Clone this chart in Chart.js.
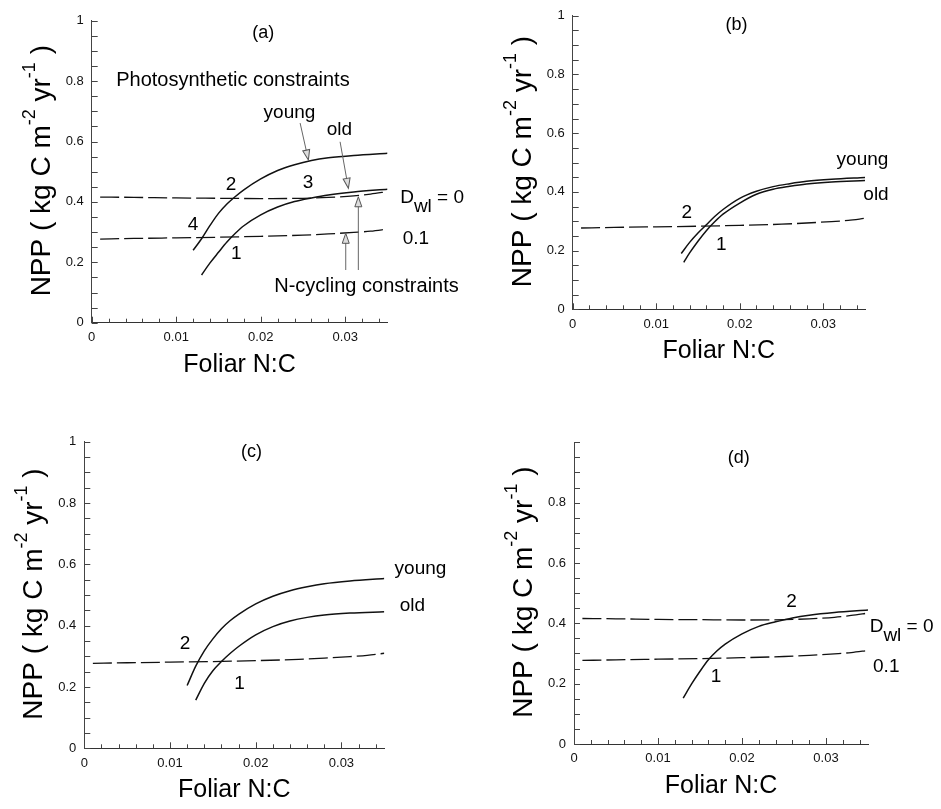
<!DOCTYPE html>
<html>
<head>
<meta charset="utf-8">
<title>NPP vs foliar N:C</title>
<script src="https://cdn.jsdelivr.net/npm/chart.js@4.4.1/dist/chart.umd.min.js"></script>
<style>
	body { margin: 0; background: #fff; }
	#wrap { position: relative; width: 941px; height: 809px; overflow: hidden; }
	canvas { position: absolute; }
</style>
</head>
<body>
<div id="wrap">
	<canvas id="pa" width="470" height="400" style="left:0;top:0"></canvas>
	<canvas id="pb" width="471" height="400" style="left:470px;top:0"></canvas>
	<canvas id="pc" width="470" height="409" style="left:0;top:400px"></canvas>
	<canvas id="pd" width="471" height="409" style="left:470px;top:400px"></canvas>
</div>
<script>
// N-cycling constraints (dashed), same in every panel
const ncDashed = [0.001, 0.005, 0.010, 0.015, 0.020, 0.025, 0.028, 0.031, 0.033, 0.035]
const nCycleDwl0 = [0.416, 0.415, 0.413, 0.412, 0.411, 0.412, 0.415, 0.420, 0.426, 0.434]
const nCycleDwl01 = [0.277, 0.279, 0.281, 0.283, 0.286, 0.290, 0.294, 0.299, 0.303, 0.310]

// photosynthetic constraints, panel (a)
const ncYoungA = [0.012, 0.013, 0.014, 0.015, 0.016, 0.017, 0.018, 0.020, 0.022, 0.024, 0.026, 0.028, 0.031, 0.035]
const youngA = [0.240, 0.278, 0.322, 0.362, 0.393, 0.418, 0.440, 0.476, 0.504, 0.523, 0.537, 0.546, 0.554, 0.561]
const ncOldA = [0.013, 0.014, 0.015, 0.016, 0.017, 0.018, 0.020, 0.022, 0.024, 0.026, 0.028, 0.031, 0.035]
const oldA = [0.158, 0.198, 0.233, 0.267, 0.296, 0.321, 0.357, 0.383, 0.401, 0.413, 0.423, 0.433, 0.442]

// panel (b)
const ncYoungB = [0.013, 0.014, 0.015, 0.016, 0.017, 0.018, 0.020, 0.022, 0.024, 0.026, 0.028, 0.031, 0.035]
const youngB = [0.190, 0.228, 0.260, 0.288, 0.316, 0.340, 0.378, 0.402, 0.418, 0.428, 0.436, 0.443, 0.449]
const ncOldB = [0.0133, 0.014, 0.015, 0.016, 0.017, 0.018, 0.020, 0.022, 0.024, 0.026, 0.028, 0.031, 0.035]
const oldB = [0.160, 0.192, 0.232, 0.268, 0.298, 0.324, 0.362, 0.392, 0.409, 0.419, 0.427, 0.434, 0.439]

// panel (c)
const ncYoungC = [0.012, 0.013, 0.014, 0.015, 0.016, 0.017, 0.018, 0.020, 0.022, 0.024, 0.026, 0.028, 0.031, 0.035]
const youngC = [0.205, 0.268, 0.318, 0.357, 0.390, 0.416, 0.437, 0.471, 0.496, 0.514, 0.527, 0.537, 0.546, 0.554]
const ncOldC = [0.013, 0.014, 0.015, 0.016, 0.017, 0.018, 0.020, 0.022, 0.024, 0.026, 0.028, 0.031, 0.035]
const oldC = [0.157, 0.212, 0.253, 0.283, 0.309, 0.332, 0.370, 0.397, 0.415, 0.427, 0.435, 0.441, 0.445]

// panel (d)
const ncOldD = [0.013, 0.014, 0.015, 0.016, 0.017, 0.018, 0.020, 0.022, 0.024, 0.026, 0.028, 0.031, 0.035]
const oldD = [0.152, 0.199, 0.241, 0.279, 0.308, 0.331, 0.365, 0.390, 0.405, 0.418, 0.427, 0.436, 0.444]

const FONT = '"Liberation Sans", Arial, Helvetica, sans-serif'

function pts(xs, ys) {
	return xs.map((x, i) => ({ x: x, y: ys[i] }))
}

function solid(xs, ys) {
	return {
		data: pts(xs, ys),
		borderColor: '#111',
		borderWidth: 1.5,
		pointRadius: 0,
		fill: false,
		cubicInterpolationMode: 'monotone',
	}
}

function dashed(xs, ys) {
	return { ...solid(xs, ys), borderWidth: 1.3, borderDash: [19, 5] }
}

const near = (v, step) => Math.abs(v / step - Math.round(v / step)) < 1e-6

// text labels, placed in data units
const notesA = [
	{ t: '(a)', x: 0.0203, y: 0.959, size: 18 },
	{ t: 'Photosynthetic constraints', x: 0.0029, y: 0.803, align: 'left', size: 20 },
	{ t: 'young', x: 0.0234, y: 0.694 },
	{ t: 'old', x: 0.0293, y: 0.638 },
	{ t: '2', x: 0.0165, y: 0.456 },
	{ t: '3', x: 0.0256, y: 0.463 },
	{ t: '4', x: 0.012, y: 0.3235 },
	{ t: '1', x: 0.0171, y: 0.2275 },
	{ t: 'D', sub: 'wl', after: ' = 0', x: 0.0365, y: 0.413, align: 'left' },
	{ t: '0.1', x: 0.0368, y: 0.277, align: 'left' },
	{ t: 'N-cycling constraints', x: 0.0216, y: 0.1215, align: 'left', size: 20 },
]
const arrowsA = [
	[0.02466, 0.661, 0.02564, 0.539],
	[0.02939, 0.599, 0.03037, 0.445],
	[0.03006, 0.1745, 0.03006, 0.296],
	[0.03155, 0.1745, 0.03155, 0.417],
]
const notesB = [
	{ t: '(b)', x: 0.0196, y: 0.969, size: 18 },
	{ t: 'young', x: 0.0316, y: 0.511, align: 'left' },
	{ t: 'old', x: 0.0348, y: 0.389, align: 'left' },
	{ t: '2', x: 0.01365, y: 0.329 },
	{ t: '1', x: 0.0178, y: 0.2185 },
]
const notesC = [
	{ t: '(c)', x: 0.0195, y: 0.967, size: 18 },
	{ t: 'young', x: 0.0362, y: 0.587, align: 'left' },
	{ t: 'old', x: 0.0368, y: 0.464, align: 'left' },
	{ t: '2', x: 0.01175, y: 0.34 },
	{ t: '1', x: 0.0181, y: 0.212 },
]
const notesD = [
	{ t: '(d)', x: 0.0196, y: 0.947, size: 18 },
	{ t: '2', x: 0.0259, y: 0.4717 },
	{ t: '1', x: 0.0169, y: 0.223 },
	{ t: 'D', sub: 'wl', after: ' = 0', x: 0.0352, y: 0.389, align: 'left' },
	{ t: '0.1', x: 0.0356, y: 0.256, align: 'left' },
]

function drawArrow(ctx, x1, y1, x2, y2) {
	const ang = Math.atan2(y2 - y1, x2 - x1)
	ctx.strokeStyle = '#666'
	ctx.lineWidth = 1
	ctx.beginPath()
	ctx.moveTo(x1, y1)
	ctx.lineTo(x2 - 8 * Math.cos(ang), y2 - 8 * Math.sin(ang))
	ctx.stroke()
	ctx.save()
	ctx.translate(x2, y2)
	ctx.rotate(ang)
	ctx.beginPath()
	ctx.moveTo(0, 0)
	ctx.lineTo(-10, -3.5)
	ctx.lineTo(-10, 3.5)
	ctx.closePath()
	ctx.fillStyle = '#ddd'
	ctx.fill()
	ctx.strokeStyle = '#555'
	ctx.stroke()
	ctx.restore()
}

function decor(notes, arrows) {
	return {
		id: 'decor',
		afterDraw(chart) {
			const { ctx, chartArea: a } = chart
			const xs = chart.scales.x
			const ys = chart.scales.y
			ctx.save()

			// tick marks point into the plot
			ctx.strokeStyle = '#444'
			ctx.lineWidth = 1
			ctx.beginPath()
			xs.ticks.forEach((t) => {
				const px = Math.round(xs.getPixelForValue(t.value)) + 0.5
				const len = near(t.value, 0.01) ? 6 : 4
				ctx.moveTo(px, a.bottom)
				ctx.lineTo(px, a.bottom - len)
			})
			ys.ticks.forEach((t) => {
				const py = Math.round(ys.getPixelForValue(t.value)) + 0.5
				ctx.moveTo(a.left, py)
				ctx.lineTo(a.left + 6, py)
			})
			ctx.stroke()

			// y axis title with superscripts
			const parts = [
				['NPP ( kg C m', false],
				['-2', true],
				[' yr', false],
				['-1', true],
				[' )', false],
			]
			const big = '28px ' + FONT
			const small = '18px ' + FONT
			let total = 0
			parts.forEach(([s, sup]) => {
				ctx.font = sup ? small : big
				total += ctx.measureText(s).width
			})
			ctx.translate(a.left - 42, (a.top + a.bottom) / 2 - 1)
			ctx.rotate(-Math.PI / 2)
			ctx.fillStyle = '#000'
			ctx.textAlign = 'left'
			ctx.textBaseline = 'alphabetic'
			let cx = -total / 2
			parts.forEach(([s, sup]) => {
				ctx.font = sup ? small : big
				ctx.fillText(s, cx, sup ? -15 : 0)
				cx += ctx.measureText(s).width
			})
			ctx.setTransform(1, 0, 0, 1, 0, 0)

			;(arrows || []).forEach(([x1, y1, x2, y2]) => {
				drawArrow(ctx, xs.getPixelForValue(x1), ys.getPixelForValue(y1), xs.getPixelForValue(x2), ys.getPixelForValue(y2))
			})

			ctx.fillStyle = '#000'
			ctx.textBaseline = 'middle'
			notes.forEach((n) => {
				const px = xs.getPixelForValue(n.x)
				const py = ys.getPixelForValue(n.y)
				ctx.font = (n.size || 19) + 'px ' + FONT
				ctx.textAlign = n.align || 'center'
				ctx.fillText(n.t, px, py)
				if (n.sub) {
					let sx = px + ctx.measureText(n.t).width
					ctx.textAlign = 'left'
					ctx.fillText(n.sub, sx, py + 9)
					sx += ctx.measureText(n.sub).width
					ctx.fillText(n.after, sx, py)
				}
			})
			ctx.restore()
		},
	}
}

function panel(id, datasets, notes, arrows, box, hideTop) {
	const cv = document.getElementById(id)
	const tickFont = { family: FONT, size: 13 }
	new Chart(cv, {
		type: 'line',
		data: { datasets: datasets },
		options: {
			responsive: false,
			animation: false,
			layout: {
				padding: { left: 0, top: box.top, right: box.right, bottom: box.bottom },
			},
			plugins: { legend: { display: false }, tooltip: { enabled: false } },
			scales: {
				x: {
					type: 'linear',
					min: 0,
					max: 0.035,
					afterFit: (s) => {
						s.height = 60
					},
					grid: { display: false, drawTicks: false },
					border: { color: '#333', width: 1 },
					ticks: {
						stepSize: 0.002,
						includeBounds: false,
						autoSkip: false,
						maxRotation: 0,
						minRotation: 0,
						padding: 7,
						color: '#111',
						font: tickFont,
						callback: (v) => (near(v, 0.01) ? String(+v.toFixed(2)) : ''),
					},
					title: {
						display: true,
						text: 'Foliar N:C',
						color: '#000',
						font: { family: FONT, size: 25 },
						padding: { top: 0, bottom: 3 },
					},
				},
				y: {
					type: 'linear',
					min: 0,
					max: 1,
					afterFit: (s) => {
						s.width = box.left
					},
					grid: { display: false, drawTicks: false },
					border: { color: '#444', width: 1 },
					ticks: {
						stepSize: 0.05,
						autoSkip: false,
						padding: 8,
						color: '#111',
						font: tickFont,
						callback: (v) => {
							if (!near(v, 0.2)) return ''
							if (hideTop && v > 0.99) return ''
							return String(+v.toFixed(1))
						},
					},
				},
			},
		},
		plugins: [decor(notes, arrows)],
	})
}

panel(
	'pa',
	[
		dashed(ncDashed, nCycleDwl0),
		dashed(ncDashed, nCycleDwl01),
		solid(ncYoungA, youngA),
		solid(ncOldA, oldA),
	],
	notesA,
	arrowsA,
	{ left: 91.7, top: 20.7, right: 82.5, bottom: 17.3 }
)

panel(
	'pb',
	[dashed(ncDashed, nCycleDwl01), solid(ncYoungB, youngB), solid(ncOldB, oldB)],
	notesB,
	[],
	{ left: 102.7, top: 7.3, right: 76, bottom: 30.7 }
)

panel(
	'pc',
	[dashed(ncDashed, nCycleDwl01), solid(ncYoungC, youngC), solid(ncOldC, oldC)],
	notesC,
	[],
	{ left: 84.3, top: 41.7, right: 85.7, bottom: 0.7 }
)

panel(
	'pd',
	[
		dashed(ncDashed, nCycleDwl0),
		dashed(ncDashed, nCycleDwl01),
		solid(ncOldD, oldD),
	],
	notesD,
	[],
	{ left: 104, top: 42.3, right: 73, bottom: 5 },
	true
)
</script>
</body>
</html>
